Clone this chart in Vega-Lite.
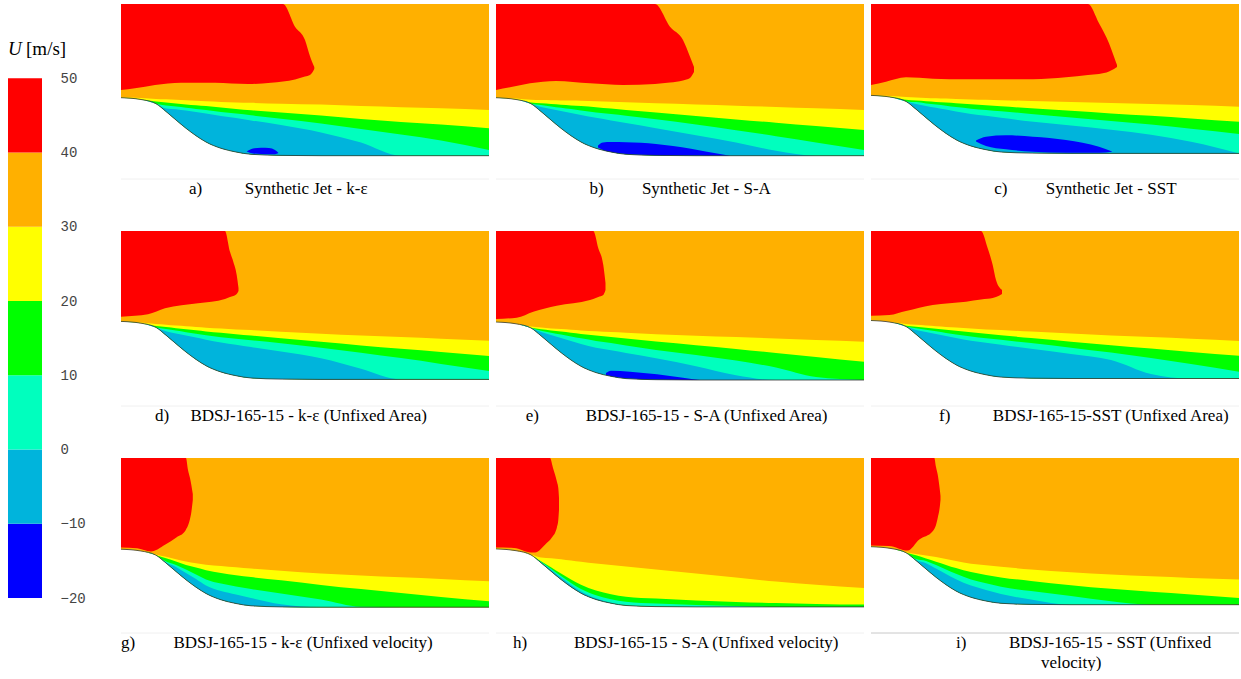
{
"$schema": "https://vega.github.io/schema/vega-lite/v6.json",
"padding": {"left": 8, "top": 4, "right": 0, "bottom": 0},
"background": "white",
"config": {"view": {"stroke": null}, "axisX": {"disable": true}},
"bounds": "flush",
"spacing": 79,
"datasets": {"panels": [
{"p":"a","k":"b","x":0,"w":58.3,"c30":58.8,"c20":58.3,"c10":58.3,"c0":58.3},
{"p":"a","k":"b","x":20,"w":56.5,"c30":58,"c20":56.6,"c10":56.5,"c0":56.5},
{"p":"a","k":"b","x":35,"w":52.3,"c30":57.1,"c20":54.5,"c10":52.3,"c0":52.3},
{"p":"a","k":"b","x":45,"w":44.5,"c30":56.7,"c20":53.6,"c10":50.5,"c0":47.5},
{"p":"a","k":"b","x":55,"w":36,"c30":56.3,"c20":52.6,"c10":49.4,"c0":46.8},
{"p":"a","k":"b","x":65,"w":27.7,"c30":55.8,"c20":51.6,"c10":48.2,"c0":45.4},
{"p":"a","k":"b","x":75,"w":20.3,"c30":55.3,"c20":50.8,"c10":47,"c0":43.9},
{"p":"a","k":"b","x":85,"w":14,"c30":54.8,"c20":49.9,"c10":45.9,"c0":42.4},
{"p":"a","k":"b","x":100,"w":7.7,"c30":54.1,"c20":48.5,"c10":44.1,"c0":40.1},
{"p":"a","k":"b","x":115,"w":4,"c30":53.6,"c20":47.1,"c10":42.4,"c0":37.9},
{"p":"a","k":"b","x":130,"w":1.7,"c30":53.2,"c20":45.8,"c10":40.7,"c0":35.6},
{"p":"a","k":"b","x":160,"w":0.6,"c30":52.3,"c20":43.5,"c10":37.2,"c0":30.9},
{"p":"a","k":"b","x":200,"w":0.3,"c30":51.4,"c20":40.5,"c10":32.5,"c0":23.6},
{"p":"a","k":"b","x":240,"w":0.3,"c30":50,"c20":37,"c10":27,"c0":13.5},
{"p":"a","k":"b","x":280,"w":0.3,"c30":48.8,"c20":34,"c10":21.4,"c0":0.3},
{"p":"a","k":"b","x":320,"w":0.3,"c30":47.8,"c20":31.5,"c10":15.4,"c0":0.3},
{"p":"a","k":"b","x":368,"w":0.3,"c30":46,"c20":27.7,"c10":6,"c0":0.3},
{"p":"b","k":"b","x":0,"w":58.3,"c30":58.8,"c20":58.3,"c10":58.3,"c0":58.3},
{"p":"b","k":"b","x":20,"w":56.5,"c30":57.5,"c20":56.6,"c10":56.5,"c0":56.5},
{"p":"b","k":"b","x":35,"w":52.3,"c30":56.2,"c20":53.5,"c10":52.3,"c0":52.3},
{"p":"b","k":"b","x":45,"w":44.5,"c30":56,"c20":52.7,"c10":51,"c0":49},
{"p":"b","k":"b","x":55,"w":36,"c30":55.8,"c20":52,"c10":49.6,"c0":47.1},
{"p":"b","k":"b","x":65,"w":27.7,"c30":55.6,"c20":51.3,"c10":48.2,"c0":45.1},
{"p":"b","k":"b","x":75,"w":20.3,"c30":55.4,"c20":50.6,"c10":46.9,"c0":43.1},
{"p":"b","k":"b","x":85,"w":14,"c30":55.2,"c20":49.9,"c10":45.5,"c0":41.1},
{"p":"b","k":"b","x":100,"w":7.7,"c30":54.8,"c20":48.8,"c10":43.6,"c0":38.2},
{"p":"b","k":"b","x":115,"w":4,"c30":54.3,"c20":47.4,"c10":41.9,"c0":35.6},
{"p":"b","k":"b","x":130,"w":1.7,"c30":53.7,"c20":46.1,"c10":40.2,"c0":33},
{"p":"b","k":"b","x":160,"w":0.6,"c30":52.7,"c20":43.4,"c10":36.8,"c0":27.8},
{"p":"b","k":"b","x":200,"w":0.3,"c30":51.5,"c20":40,"c10":31.4,"c0":20.8},
{"p":"b","k":"b","x":240,"w":0.3,"c30":50.3,"c20":36.6,"c10":25.8,"c0":13.5},
{"p":"b","k":"b","x":280,"w":0.3,"c30":49.1,"c20":33.2,"c10":19.8,"c0":5.3},
{"p":"b","k":"b","x":320,"w":0.3,"c30":47.8,"c20":29.9,"c10":13.6,"c0":0.3},
{"p":"b","k":"b","x":368,"w":0.3,"c30":46,"c20":26,"c10":6,"c0":0.3},
{"p":"c","k":"b","x":0,"w":60.6,"c30":61.1,"c20":60.6,"c10":60.6,"c0":60.6},
{"p":"c","k":"b","x":20,"w":58.8,"c30":60,"c20":58.9,"c10":58.8,"c0":58.8},
{"p":"c","k":"b","x":35,"w":54.6,"c30":58.9,"c20":56.2,"c10":54.6,"c0":54.6},
{"p":"c","k":"b","x":45,"w":46.8,"c30":58.4,"c20":55.5,"c10":53.9,"c0":52},
{"p":"c","k":"b","x":55,"w":38.3,"c30":58,"c20":54.8,"c10":52.6,"c0":50.1},
{"p":"c","k":"b","x":65,"w":30,"c30":57.7,"c20":54.1,"c10":51.4,"c0":48.3},
{"p":"c","k":"b","x":75,"w":22.6,"c30":57.4,"c20":53.4,"c10":50.2,"c0":46.4},
{"p":"c","k":"b","x":85,"w":16.3,"c30":57.1,"c20":52.7,"c10":48.9,"c0":44.6},
{"p":"c","k":"b","x":100,"w":10,"c30":56.6,"c20":51.7,"c10":47.3,"c0":42.1},
{"p":"c","k":"b","x":115,"w":6.3,"c30":56.2,"c20":50.7,"c10":46,"c0":40.2},
{"p":"c","k":"b","x":130,"w":4,"c30":55.8,"c20":49.7,"c10":44.7,"c0":38.3},
{"p":"c","k":"b","x":160,"w":2.9,"c30":55,"c20":47.8,"c10":42.1,"c0":34.5},
{"p":"c","k":"b","x":200,"w":2.6,"c30":54,"c20":45.2,"c10":38.6,"c0":30.5},
{"p":"c","k":"b","x":240,"w":2.6,"c30":53,"c20":42.6,"c10":34.9,"c0":26.2},
{"p":"c","k":"b","x":280,"w":2.6,"c30":52,"c20":40.2,"c10":31.4,"c0":21.2},
{"p":"c","k":"b","x":320,"w":2.6,"c30":50.9,"c20":37.6,"c10":27.3,"c0":14.3},
{"p":"c","k":"b","x":368,"w":2.6,"c30":49.3,"c20":34.3,"c10":22,"c0":2.6},
{"p":"d","k":"b","x":0,"w":61.6,"c30":62.1,"c20":61.6,"c10":61.6,"c0":61.6},
{"p":"d","k":"b","x":20,"w":59.8,"c30":60.4,"c20":59.8,"c10":59.8,"c0":59.8},
{"p":"d","k":"b","x":35,"w":55.6,"c30":58.9,"c20":56.9,"c10":55.6,"c0":55.6},
{"p":"d","k":"b","x":45,"w":47.8,"c30":58.2,"c20":55.9,"c10":54,"c0":51.8},
{"p":"d","k":"b","x":55,"w":39.3,"c30":57.4,"c20":54.8,"c10":52.4,"c0":49.6},
{"p":"d","k":"b","x":65,"w":31,"c30":56.7,"c20":53.8,"c10":50.8,"c0":47.5},
{"p":"d","k":"b","x":75,"w":23.6,"c30":56,"c20":52.7,"c10":49.3,"c0":45.4},
{"p":"d","k":"b","x":85,"w":17.3,"c30":55.3,"c20":51.6,"c10":47.7,"c0":43.2},
{"p":"d","k":"b","x":100,"w":11,"c30":54.4,"c20":50.2,"c10":45.7,"c0":40.4},
{"p":"d","k":"b","x":115,"w":7.3,"c30":53.6,"c20":48.8,"c10":44.2,"c0":38.2},
{"p":"d","k":"b","x":130,"w":5,"c30":52.9,"c20":47.5,"c10":42.7,"c0":35.9},
{"p":"d","k":"b","x":160,"w":3.9,"c30":51.3,"c20":44.8,"c10":39.8,"c0":31.4},
{"p":"d","k":"b","x":200,"w":3.6,"c30":49.3,"c20":41.2,"c10":35.2,"c0":24.8},
{"p":"d","k":"b","x":240,"w":3.6,"c30":47.5,"c20":37.6,"c10":30.3,"c0":14.2},
{"p":"d","k":"b","x":280,"w":3.6,"c30":45.9,"c20":34.2,"c10":24.9,"c0":3.6},
{"p":"d","k":"b","x":320,"w":3.6,"c30":44.3,"c20":31,"c10":19.1,"c0":3.6},
{"p":"d","k":"b","x":368,"w":3.6,"c30":42.3,"c20":27,"c10":12,"c0":3.6},
{"p":"e","k":"b","x":0,"w":61,"c30":61.5,"c20":61,"c10":61,"c0":61},
{"p":"e","k":"b","x":20,"w":59.2,"c30":59.6,"c20":59.2,"c10":59.2,"c0":59.2},
{"p":"e","k":"b","x":35,"w":55,"c30":56.5,"c20":55.2,"c10":55,"c0":55},
{"p":"e","k":"b","x":45,"w":47.2,"c30":55.6,"c20":53.8,"c10":52.2,"c0":51},
{"p":"e","k":"b","x":55,"w":38.7,"c30":54.6,"c20":52.6,"c10":50.3,"c0":48},
{"p":"e","k":"b","x":65,"w":30.4,"c30":53.9,"c20":51.5,"c10":48.4,"c0":45},
{"p":"e","k":"b","x":75,"w":23,"c30":53.2,"c20":50.3,"c10":46.6,"c0":42},
{"p":"e","k":"b","x":85,"w":16.7,"c30":52.5,"c20":49.1,"c10":44.7,"c0":39},
{"p":"e","k":"b","x":100,"w":10.4,"c30":51.7,"c20":47.4,"c10":42.1,"c0":35.3},
{"p":"e","k":"b","x":115,"w":6.7,"c30":50.9,"c20":45.9,"c10":39.9,"c0":32.7},
{"p":"e","k":"b","x":130,"w":4.4,"c30":50.2,"c20":44.4,"c10":37.6,"c0":30.1},
{"p":"e","k":"b","x":160,"w":3.3,"c30":48.7,"c20":41.4,"c10":33.1,"c0":24.8},
{"p":"e","k":"b","x":200,"w":3,"c30":47.3,"c20":37.8,"c10":28.1,"c0":16.8},
{"p":"e","k":"b","x":240,"w":3,"c30":45.9,"c20":34.1,"c10":22.4,"c0":7.8},
{"p":"e","k":"b","x":280,"w":3,"c30":44.5,"c20":30.1,"c10":15.5,"c0":3},
{"p":"e","k":"b","x":320,"w":3,"c30":43,"c20":26.1,"c10":5.9,"c0":3},
{"p":"e","k":"b","x":368,"w":3,"c30":41.3,"c20":21.3,"c10":3,"c0":3},
{"p":"f","k":"b","x":0,"w":62.5,"c30":63,"c20":62.5,"c10":62.5,"c0":62.5},
{"p":"f","k":"b","x":20,"w":60.7,"c30":61,"c20":60.7,"c10":60.7,"c0":60.7},
{"p":"f","k":"b","x":35,"w":56.5,"c30":59,"c20":57.3,"c10":56.5,"c0":56.5},
{"p":"f","k":"b","x":45,"w":48.7,"c30":58.2,"c20":56.3,"c10":54.8,"c0":53},
{"p":"f","k":"b","x":55,"w":40.2,"c30":57.5,"c20":55.3,"c10":53.2,"c0":51},
{"p":"f","k":"b","x":65,"w":31.9,"c30":56.8,"c20":54.3,"c10":51.7,"c0":49},
{"p":"f","k":"b","x":75,"w":24.5,"c30":56.1,"c20":53.3,"c10":50.1,"c0":47},
{"p":"f","k":"b","x":85,"w":18.2,"c30":55.4,"c20":52.3,"c10":48.6,"c0":45},
{"p":"f","k":"b","x":100,"w":11.9,"c30":54.4,"c20":50.8,"c10":46.5,"c0":42.3},
{"p":"f","k":"b","x":115,"w":8.2,"c30":53.6,"c20":49.3,"c10":44.8,"c0":40.3},
{"p":"f","k":"b","x":130,"w":5.9,"c30":52.9,"c20":47.8,"c10":43.2,"c0":38.2},
{"p":"f","k":"b","x":160,"w":4.8,"c30":51.4,"c20":44.9,"c10":39.9,"c0":34.2},
{"p":"f","k":"b","x":200,"w":4.5,"c30":49.4,"c20":41.3,"c10":35.3,"c0":29},
{"p":"f","k":"b","x":240,"w":4.5,"c30":47.5,"c20":37.7,"c10":30.4,"c0":23},
{"p":"f","k":"b","x":280,"w":4.5,"c30":45.9,"c20":34.4,"c10":25,"c0":9},
{"p":"f","k":"b","x":320,"w":4.5,"c30":44.2,"c20":31.1,"c10":19,"c0":4.5},
{"p":"f","k":"b","x":368,"w":4.5,"c30":42,"c20":27.3,"c10":11.3,"c0":4.5},
{"p":"g","k":"b","x":0,"w":60.8,"c30":61.1,"c20":60.8,"c10":60.8,"c0":60.8},
{"p":"g","k":"b","x":20,"w":59,"c30":59.3,"c20":59,"c10":59,"c0":59},
{"p":"g","k":"b","x":35,"w":54.8,"c30":55.6,"c20":54.8,"c10":54.8,"c0":54.8},
{"p":"g","k":"b","x":45,"w":47,"c30":53.3,"c20":51.7,"c10":48.5,"c0":47.5},
{"p":"g","k":"b","x":55,"w":38.5,"c30":50.8,"c20":48.5,"c10":45,"c0":43},
{"p":"g","k":"b","x":65,"w":30.2,"c30":48.6,"c20":45,"c10":40.5,"c0":37},
{"p":"g","k":"b","x":75,"w":22.8,"c30":46.7,"c20":42.5,"c10":35.5,"c0":31},
{"p":"g","k":"b","x":85,"w":16.5,"c30":45.3,"c20":39.8,"c10":30.6,"c0":24.5},
{"p":"g","k":"b","x":100,"w":10.2,"c30":44,"c20":36.9,"c10":26.4,"c0":19},
{"p":"g","k":"b","x":115,"w":6.5,"c30":42.7,"c20":34.7,"c10":23.6,"c0":15.5},
{"p":"g","k":"b","x":130,"w":4.2,"c30":41.4,"c20":32.9,"c10":21,"c0":12},
{"p":"g","k":"b","x":160,"w":3.1,"c30":39.2,"c20":29.8,"c10":16.4,"c0":5.8},
{"p":"g","k":"b","x":200,"w":2.8,"c30":36.5,"c20":25.1,"c10":10.4,"c0":2.8},
{"p":"g","k":"b","x":240,"w":2.8,"c30":34.5,"c20":20.9,"c10":3.2,"c0":2.8},
{"p":"g","k":"b","x":280,"w":2.8,"c30":32.7,"c20":16.9,"c10":2.8,"c0":2.8},
{"p":"g","k":"b","x":320,"w":2.8,"c30":31.1,"c20":13.1,"c10":2.8,"c0":2.8},
{"p":"g","k":"b","x":368,"w":2.8,"c30":28.7,"c20":8.7,"c10":2.8,"c0":2.8},
{"p":"h","k":"b","x":0,"w":61.1,"c30":61.4,"c20":61.1,"c10":61.1,"c0":61.1},
{"p":"h","k":"b","x":20,"w":59.3,"c30":59.6,"c20":59.3,"c10":59.3,"c0":59.3},
{"p":"h","k":"b","x":35,"w":55.1,"c30":55.4,"c20":55.1,"c10":55.1,"c0":55.1},
{"p":"h","k":"b","x":45,"w":47.3,"c30":52.5,"c20":48.8,"c10":48.3,"c0":47.8},
{"p":"h","k":"b","x":55,"w":38.8,"c30":51.8,"c20":42.8,"c10":41.3,"c0":40.3},
{"p":"h","k":"b","x":65,"w":30.5,"c30":50.8,"c20":36.5,"c10":34,"c0":32.5},
{"p":"h","k":"b","x":75,"w":23.1,"c30":49.5,"c20":30.6,"c10":27.1,"c0":25.1},
{"p":"h","k":"b","x":85,"w":16.8,"c30":48.2,"c20":25.3,"c10":21.1,"c0":18.6},
{"p":"h","k":"b","x":100,"w":10.5,"c30":46.4,"c20":19.5,"c10":14.8,"c0":11.7},
{"p":"h","k":"b","x":115,"w":6.8,"c30":44.9,"c20":15.8,"c10":10.8,"c0":7.3},
{"p":"h","k":"b","x":130,"w":4.5,"c30":43.4,"c20":13.2,"c10":8.2,"c0":4.5},
{"p":"h","k":"b","x":160,"w":3.4,"c30":40.4,"c20":11.4,"c10":6.4,"c0":3.4},
{"p":"h","k":"b","x":200,"w":3.1,"c30":36.4,"c20":9.6,"c10":5.1,"c0":3.1},
{"p":"h","k":"b","x":240,"w":3.1,"c30":32.4,"c20":8.1,"c10":4.1,"c0":3.1},
{"p":"h","k":"b","x":280,"w":3.1,"c30":28.4,"c20":6.9,"c10":3.1,"c0":3.1},
{"p":"h","k":"b","x":320,"w":3.1,"c30":25.2,"c20":6.1,"c10":3.1,"c0":3.1},
{"p":"h","k":"b","x":368,"w":3.1,"c30":22,"c20":5.4,"c10":3.1,"c0":3.1},
{"p":"i","k":"b","x":0,"w":63.3,"c30":63.6,"c20":63.3,"c10":63.3,"c0":63.3},
{"p":"i","k":"b","x":20,"w":61.5,"c30":61.8,"c20":61.5,"c10":61.5,"c0":61.5},
{"p":"i","k":"b","x":35,"w":57.3,"c30":57.8,"c20":57.3,"c10":57.3,"c0":57.3},
{"p":"i","k":"b","x":45,"w":49.5,"c30":56,"c20":54.7,"c10":51,"c0":50},
{"p":"i","k":"b","x":55,"w":41,"c30":54.6,"c20":51.5,"c10":49.1,"c0":46.8},
{"p":"i","k":"b","x":65,"w":32.7,"c30":53,"c20":48.3,"c10":44.9,"c0":41.5},
{"p":"i","k":"b","x":75,"w":25.3,"c30":51,"c20":45.1,"c10":40.6,"c0":36.1},
{"p":"i","k":"b","x":85,"w":19,"c30":49,"c20":41.9,"c10":36.3,"c0":30.8},
{"p":"i","k":"b","x":100,"w":12.7,"c30":46.3,"c20":37.9,"c10":30.6,"c0":24.4},
{"p":"i","k":"b","x":115,"w":9,"c30":44.8,"c20":35.1,"c10":26.8,"c0":20},
{"p":"i","k":"b","x":130,"w":6.7,"c30":43.3,"c20":32.6,"c10":23.2,"c0":16},
{"p":"i","k":"b","x":160,"w":5.6,"c30":40.5,"c20":29,"c10":19,"c0":10.5},
{"p":"i","k":"b","x":200,"w":5.3,"c30":37.8,"c20":24.8,"c10":13.9,"c0":5.3},
{"p":"i","k":"b","x":240,"w":5.3,"c30":35.4,"c20":21.2,"c10":8.7,"c0":5.3},
{"p":"i","k":"b","x":280,"w":5.3,"c30":33.7,"c20":18.3,"c10":5.3,"c0":5.3},
{"p":"i","k":"b","x":320,"w":5.3,"c30":32,"c20":15.6,"c10":5.3,"c0":5.3},
{"p":"i","k":"b","x":368,"w":5.3,"c30":30.4,"c20":12,"c10":5.3,"c0":5.3},
{"p":"a","k":"r","x":0,"lo":66,"hi":152},{"p":"a","k":"r","x":14,"lo":67.7,"hi":152},{"p":"a","k":"r","x":34,"lo":71,"hi":152},{"p":"a","k":"r","x":60,"lo":73.3,"hi":152},{"p":"a","k":"r","x":94,"lo":73.3,"hi":152},{"p":"a","k":"r","x":127,"lo":72,"hi":152},{"p":"a","k":"r","x":150,"lo":73.3,"hi":152},{"p":"a","k":"r","x":162,"lo":74.5,"hi":152},{"p":"a","k":"r","x":174,"lo":76.5,"hi":129.3},{"p":"a","k":"r","x":184,"lo":79.5,"hi":116},{"p":"a","k":"r","x":189,"lo":81,"hi":99.7},{"p":"a","k":"r","x":193.3,"lo":87,"hi":89},
{"p":"b","k":"r","x":0,"lo":66,"hi":152},{"p":"b","k":"r","x":14,"lo":68.7,"hi":152},{"p":"b","k":"r","x":34,"lo":72.7,"hi":152},{"p":"b","k":"r","x":60,"lo":75,"hi":152},{"p":"b","k":"r","x":94,"lo":72.7,"hi":152},{"p":"b","k":"r","x":127,"lo":71,"hi":152},{"p":"b","k":"r","x":159,"lo":72,"hi":152},{"p":"b","k":"r","x":174,"lo":73.5,"hi":129.3},{"p":"b","k":"r","x":187,"lo":75.5,"hi":116},{"p":"b","k":"r","x":194,"lo":78,"hi":99.3},{"p":"b","k":"r","x":198,"lo":84,"hi":89},
{"p":"c","k":"r","x":0,"lo":71,"hi":152},{"p":"c","k":"r","x":15,"lo":74.3,"hi":152},{"p":"c","k":"r","x":35,"lo":78.7,"hi":152},{"p":"c","k":"r","x":62,"lo":77.3,"hi":152},{"p":"c","k":"r","x":95,"lo":76.7,"hi":152},{"p":"c","k":"r","x":128,"lo":76.7,"hi":152},{"p":"c","k":"r","x":162,"lo":76.7,"hi":152},{"p":"c","k":"r","x":195,"lo":78.7,"hi":152},{"p":"c","k":"r","x":217,"lo":81,"hi":152},{"p":"c","k":"r","x":228,"lo":82,"hi":132.7},{"p":"c","k":"r","x":238,"lo":84.5,"hi":112.7},{"p":"c","k":"r","x":243,"lo":87,"hi":99.3},{"p":"c","k":"r","x":246,"lo":89,"hi":91},
{"p":"d","k":"r","x":0,"lo":66.3,"hi":152},{"p":"d","k":"r","x":14,"lo":67.3,"hi":152},{"p":"d","k":"r","x":27,"lo":68.7,"hi":152},{"p":"d","k":"r","x":44,"lo":74.7,"hi":152},{"p":"d","k":"r","x":77,"lo":79.7,"hi":152},{"p":"d","k":"r","x":104,"lo":84,"hi":152},{"p":"d","k":"r","x":109,"lo":86,"hi":131.3},{"p":"d","k":"r","x":112.3,"lo":87,"hi":121.3},{"p":"d","k":"r","x":115.7,"lo":89,"hi":108},{"p":"d","k":"r","x":117.5,"lo":92,"hi":95},
{"p":"e","k":"r","x":0,"lo":64,"hi":152},{"p":"e","k":"r","x":20.7,"lo":65.3,"hi":152},{"p":"e","k":"r","x":37.3,"lo":71.3,"hi":152},{"p":"e","k":"r","x":60.7,"lo":77.3,"hi":152},{"p":"e","k":"r","x":94,"lo":83,"hi":152},{"p":"e","k":"r","x":97.3,"lo":84,"hi":152},{"p":"e","k":"r","x":102.3,"lo":86,"hi":134.7},{"p":"e","k":"r","x":107.3,"lo":88,"hi":118},{"p":"e","k":"r","x":109.5,"lo":93,"hi":100},
{"p":"f","k":"r","x":0,"lo":67.3,"hi":152},{"p":"f","k":"r","x":18.3,"lo":68,"hi":152},{"p":"f","k":"r","x":35,"lo":72,"hi":152},{"p":"f","k":"r","x":61.7,"lo":78,"hi":152},{"p":"f","k":"r","x":95,"lo":81.3,"hi":152},{"p":"f","k":"r","x":110,"lo":83.5,"hi":152},{"p":"f","k":"r","x":116.7,"lo":84.2,"hi":134.7},{"p":"f","k":"r","x":121.7,"lo":85,"hi":118},{"p":"f","k":"r","x":125,"lo":86,"hi":103},{"p":"f","k":"r","x":131,"lo":89,"hi":93},
{"p":"g","k":"r","x":0,"lo":62.5,"hi":152},{"p":"g","k":"r","x":16,"lo":61.8,"hi":152},{"p":"g","k":"r","x":30,"lo":58.5,"hi":152},{"p":"g","k":"r","x":44,"lo":65.3,"hi":152},{"p":"g","k":"r","x":55.7,"lo":72.7,"hi":152},{"p":"g","k":"r","x":64,"lo":78.7,"hi":152},{"p":"g","k":"r","x":65,"lo":80.5,"hi":152},{"p":"g","k":"r","x":67,"lo":84.5,"hi":140},{"p":"g","k":"r","x":69,"lo":91,"hi":132},{"p":"g","k":"r","x":70.5,"lo":99,"hi":124},{"p":"g","k":"r","x":71.8,"lo":110,"hi":116},
{"p":"h","k":"r","x":0,"lo":62.5,"hi":152},{"p":"h","k":"r","x":18,"lo":62,"hi":152},{"p":"h","k":"r","x":35,"lo":57.5,"hi":152},{"p":"h","k":"r","x":39,"lo":57.5,"hi":152},{"p":"h","k":"r","x":50.7,"lo":67,"hi":152},{"p":"h","k":"r","x":54,"lo":70,"hi":152},{"p":"h","k":"r","x":57,"lo":74,"hi":142},{"p":"h","k":"r","x":59,"lo":77,"hi":135.4},{"p":"h","k":"r","x":61,"lo":83,"hi":128},{"p":"h","k":"r","x":62.3,"lo":90,"hi":122},{"p":"h","k":"r","x":63,"lo":100,"hi":112},
{"p":"i","k":"r","x":0,"lo":64.5,"hi":152},{"p":"i","k":"r","x":18,"lo":64,"hi":152},{"p":"i","k":"r","x":36.7,"lo":59.4,"hi":152},{"p":"i","k":"r","x":48.3,"lo":70.4,"hi":152},{"p":"i","k":"r","x":61.7,"lo":78.7,"hi":152},{"p":"i","k":"r","x":63.3,"lo":81,"hi":152},{"p":"i","k":"r","x":65,"lo":85,"hi":143},{"p":"i","k":"r","x":66.7,"lo":92,"hi":135.4},{"p":"i","k":"r","x":69,"lo":105,"hi":118.7},{"p":"i","k":"r","x":69.5,"lo":110,"hi":114},
{"p":"a","k":"bl","x":125.7,"lo":4.5,"hi":4.5},{"p":"a","k":"bl","x":132,"lo":2.5,"hi":7.5},{"p":"a","k":"bl","x":140,"lo":2,"hi":8.3},{"p":"a","k":"bl","x":148,"lo":1.8,"hi":8},{"p":"a","k":"bl","x":154,"lo":1.8,"hi":6},{"p":"a","k":"bl","x":157.5,"lo":3,"hi":3},
{"p":"b","k":"bl","x":102,"lo":8.5,"hi":10.5},{"p":"b","k":"bl","x":107,"lo":6,"hi":13.5},{"p":"b","k":"bl","x":115,"lo":4,"hi":14},{"p":"b","k":"bl","x":130,"lo":2,"hi":13.8},{"p":"b","k":"bl","x":145,"lo":1.2,"hi":13.3},{"p":"b","k":"bl","x":160,"lo":0.8,"hi":12},{"p":"b","k":"bl","x":177,"lo":0.5,"hi":10},{"p":"b","k":"bl","x":195,"lo":0.4,"hi":7.3},{"p":"b","k":"bl","x":211,"lo":0.3,"hi":4.3},{"p":"b","k":"bl","x":234,"lo":0.3,"hi":0.3},
{"p":"c","k":"bl","x":105,"lo":14.5,"hi":15.5},{"p":"c","k":"bl","x":115,"lo":10,"hi":19.3},{"p":"c","k":"bl","x":135,"lo":6.7,"hi":20.7},{"p":"c","k":"bl","x":162,"lo":4.3,"hi":19.3},{"p":"c","k":"bl","x":195,"lo":3.3,"hi":16},{"p":"c","k":"bl","x":228,"lo":3.3,"hi":9.3},{"p":"c","k":"bl","x":241,"lo":4.3,"hi":4.5},
{"p":"e","k":"bl","x":110,"lo":8,"hi":10},{"p":"e","k":"bl","x":115,"lo":6.8,"hi":12.2},{"p":"e","k":"bl","x":134,"lo":4.5,"hi":11.3},{"p":"e","k":"bl","x":161,"lo":3.4,"hi":8.7},{"p":"e","k":"bl","x":187,"lo":3.1,"hi":5.3},{"p":"e","k":"bl","x":204,"lo":3,"hi":3},
{"p":"a","k":"hr","x":0,"x2":368,"lo":-23},{"p":"b","k":"hr","x":0,"x2":368,"lo":-23},{"p":"c","k":"hr","x":0,"x2":368,"lo":-23},
{"p":"d","k":"hr","x":0,"x2":368,"lo":-23},{"p":"e","k":"hr","x":0,"x2":368,"lo":-23},{"p":"f","k":"hr","x":0,"x2":368,"lo":-23},
{"p":"g","k":"hr","x":0,"x2":368,"lo":-23},{"p":"h","k":"hr","x":0,"x2":368,"lo":-23},
{"p":"i","k":"hr2","x":0,"x2":368,"lo":-23}
]},
"hconcat": [
{
 "width": 34, "height": 594,
 "layer": [
  {"data": {"values": [{"lo":-20,"hi":-10},{"lo":-10,"hi":0},{"lo":0,"hi":10},{"lo":10,"hi":20},{"lo":20,"hi":30},{"lo":30,"hi":40},{"lo":40,"hi":50}]},
   "mark": {"type": "rect"},
   "encoding": {
    "x": {"datum": 0, "type": "quantitative", "scale": {"domain": [0, 1], "nice": false, "zero": false}, "axis": null},
    "x2": {"datum": 1},
    "y": {"field": "lo", "type": "quantitative", "scale": {"domain": [-20, 60], "nice": false, "zero": false},
          "axis": {"orient": "right", "values": [-20,-10,0,10,20,30,40,50], "domain": false, "ticks": false, "grid": false, "labelPadding": 18, "labelFont": "Liberation Mono", "labelFontSize": 14, "labelColor": "#444", "title": null, "labelOverlap": false, "labelBound": false, "labelFlush": false}},
    "y2": {"field": "hi"},
    "color": {"field": "lo", "type": "ordinal", "scale": {"domain": [-20,-10,0,10,20,30,40], "range": ["#0000ff","#00b4dc","#00ffbe","#00ff00","#ffff00","#ffb000","#ff0000"]}, "legend": null}
   }},
  {"data": {"values": [{}]},
   "mark": {"type": "text", "text": "U", "font": "Liberation Serif", "fontSize": 19, "fontStyle": "italic", "align": "left", "baseline": "middle", "color": "#000"},
   "encoding": {
    "x": {"datum": 0, "type": "quantitative", "axis": null},
    "y": {"datum": 54, "type": "quantitative",
          "axis": {"orient": "right", "values": [-20,-10,0,10,20,30,40,50], "domain": false, "ticks": false, "grid": false, "labelPadding": 18, "labelFont": "Liberation Mono", "labelFontSize": 14, "labelColor": "#444", "title": null, "labelOverlap": false, "labelBound": false, "labelFlush": false}}
   }},
  {"data": {"values": [{}]},
   "mark": {"type": "text", "text": "[m/s]", "font": "Liberation Serif", "fontSize": 19, "align": "left", "baseline": "middle", "color": "#000"},
   "encoding": {
    "x": {"datum": 0.53, "type": "quantitative", "axis": null},
    "y": {"datum": 54, "type": "quantitative",
          "axis": {"orient": "right", "values": [-20,-10,0,10,20,30,40,50], "domain": false, "ticks": false, "grid": false, "labelPadding": 18, "labelFont": "Liberation Mono", "labelFontSize": 14, "labelColor": "#444", "title": null, "labelOverlap": false, "labelBound": false, "labelFlush": false}}
   }}
 ]
},
{
 "data": {"name": "panels"},
 "facet": {"field": "p", "type": "nominal", "title": null,
   "header": {"labelOrient": "bottom", "labelAnchor": "start", "labelAlign": "left", "labelPadding": 1,
     "labelFont": "Liberation Serif", "labelFontSize": 17, "labelColor": "#000", "labelLineHeight": 20,
     "labelExpr": "{'a': '\u200b'+pad('',16,'\u00a0')+'a)'+pad('',10,'\u00a0')+'Synthetic Jet - k-ε', 'b': '\u200b'+pad('',22,'\u00a0')+'b)'+pad('',9,'\u00a0')+'Synthetic Jet - S-A', 'c': '\u200b'+pad('',29,'\u00a0')+'c)'+pad('',9,'\u00a0')+'Synthetic Jet - SST', 'd': '\u200b'+pad('',8,'\u00a0')+'d)'+pad('',5,'\u00a0')+'BDSJ-165-15 - k-ε (Unfixed Area)', 'e': '\u200b'+pad('',7,'\u00a0')+'e)'+pad('',11,'\u00a0')+'BDSJ-165-15 - S-A (Unfixed Area)', 'f': '\u200b'+pad('',16,'\u00a0')+'f)'+pad('',10,'\u00a0')+'BDSJ-165-15-SST (Unfixed Area)', 'g': 'g)'+pad('',9,'\u00a0')+'BDSJ-165-15 - k-ε (Unfixed velocity)', 'h': '\u200b'+pad('',4,'\u00a0')+'h)'+pad('',11,'\u00a0')+'BDSJ-165-15 - S-A (Unfixed velocity)', 'i': ['\u200b'+pad('',20,'\u00a0')+'i)'+pad('',10,'\u00a0')+'BDSJ-165-15 - SST (Unfixed', '\u200b'+pad('',40,'\u00a0')+'velocity)']}[datum.value]"}},
 "columns": 3,
 "spacing": {"row": 75, "column": 7},
 "bounds": "flush",
 "spec": {
  "width": 368, "height": 152,
  "encoding": {"x": {"field": "x", "type": "quantitative", "scale": {"domain": [0, 368], "nice": false, "zero": false}, "axis": null}},
  "layer": [
   {"transform": [{"filter": "datum.k === 'b'"}], "mark": {"type": "area", "color": "#ffb000", "interpolate": "monotone"},
    "encoding": {"y": {"field": "w", "type": "quantitative", "scale": {"domain": [0, 152], "nice": false, "zero": false}, "axis": null}, "y2": {"datum": 152}}},
   {"transform": [{"filter": "datum.k === 'r'"}], "mark": {"type": "area", "color": "#ff0000", "interpolate": "monotone"},
    "encoding": {"y": {"field": "lo", "type": "quantitative", "scale": {"domain": [0, 152], "nice": false, "zero": false}, "axis": null}, "y2": {"field": "hi"}}},
   {"transform": [{"filter": "datum.k === 'b'"}], "mark": {"type": "area", "color": "#ffff00", "interpolate": "monotone"},
    "encoding": {"y": {"field": "w", "type": "quantitative", "scale": {"domain": [0, 152], "nice": false, "zero": false}, "axis": null}, "y2": {"field": "c30"}}},
   {"transform": [{"filter": "datum.k === 'b'"}], "mark": {"type": "area", "color": "#00ff00", "interpolate": "monotone"},
    "encoding": {"y": {"field": "w", "type": "quantitative", "scale": {"domain": [0, 152], "nice": false, "zero": false}, "axis": null}, "y2": {"field": "c20"}}},
   {"transform": [{"filter": "datum.k === 'b'"}], "mark": {"type": "area", "color": "#00ffbe", "interpolate": "monotone"},
    "encoding": {"y": {"field": "w", "type": "quantitative", "scale": {"domain": [0, 152], "nice": false, "zero": false}, "axis": null}, "y2": {"field": "c10"}}},
   {"transform": [{"filter": "datum.k === 'b'"}], "mark": {"type": "area", "color": "#00b4dc", "interpolate": "monotone"},
    "encoding": {"y": {"field": "w", "type": "quantitative", "scale": {"domain": [0, 152], "nice": false, "zero": false}, "axis": null}, "y2": {"field": "c0"}}},
   {"transform": [{"filter": "datum.k === 'bl'"}], "mark": {"type": "area", "color": "#0000ff", "interpolate": "monotone"},
    "encoding": {"y": {"field": "lo", "type": "quantitative", "scale": {"domain": [0, 152], "nice": false, "zero": false}, "axis": null}, "y2": {"field": "hi"}}},
   {"transform": [{"filter": "datum.k === 'b'"}], "mark": {"type": "line", "color": "#333333", "strokeWidth": 0.8, "interpolate": "monotone"},
    "encoding": {"y": {"field": "w", "type": "quantitative", "scale": {"domain": [0, 152], "nice": false, "zero": false}, "axis": null}}},
   {"transform": [{"filter": "datum.k === 'hr'"}], "mark": {"type": "rule", "color": "#f0f0f0", "strokeWidth": 1},
    "encoding": {"x2": {"field": "x2"}, "y": {"field": "lo", "type": "quantitative", "scale": {"domain": [0, 152], "nice": false, "zero": false}, "axis": null}}},
   {"transform": [{"filter": "datum.k === 'hr2'"}], "mark": {"type": "rule", "color": "#c8c8c8", "strokeWidth": 1},
    "encoding": {"x2": {"field": "x2"}, "y": {"field": "lo", "type": "quantitative", "scale": {"domain": [0, 152], "nice": false, "zero": false}, "axis": null}}}
  ]
 }
}
]
}
